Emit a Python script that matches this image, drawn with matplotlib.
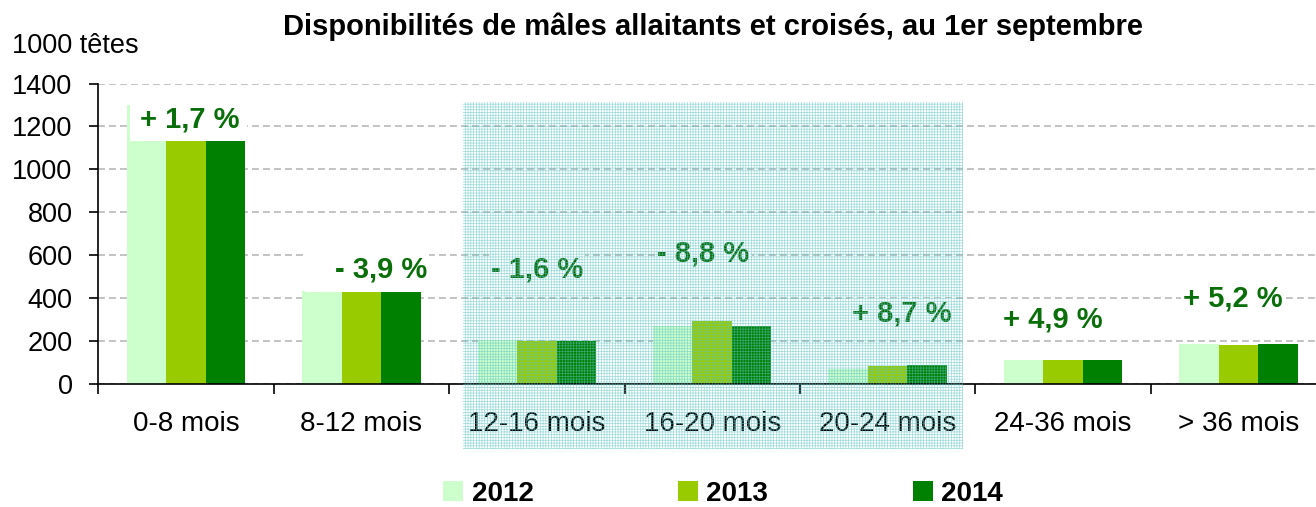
import numpy as np
import matplotlib
matplotlib.use("Agg")
import matplotlib.pyplot as plt
import matplotlib.transforms as mtransforms
from matplotlib.patches import Rectangle, Patch

plt.rcParams['font.family'] = ['Liberation Sans', 'DejaVu Sans']
plt.rcParams['hatch.linewidth'] = 0.5

categories = ['0-8 mois', '8-12 mois', '12-16 mois', '16-20 mois',
              '20-24 mois', '24-36 mois', '> 36 mois']
v2012 = [1300, 434, 205, 270, 68, 110, 185]
v2013 = [1130, 426, 200, 293, 83, 110, 180]
v2014 = [1130, 426, 197, 270, 88, 110, 185]
changes = ['+ 1,7 %', '- 3,9 %', '- 1,6 %', '- 8,8 %', '+ 8,7 %', '+ 4,9 %', '+ 5,2 %']
years = ['2012', '2013', '2014']
yticks = [0, 200, 400, 600, 800, 1000, 1200, 1400]

# label placement (layout only)
lab_dx = [0.02, 0.11, 0.0, -0.05, 0.08, -0.06, -0.03]
lab_base = [1197, 497, 497, 567, 287, 259, 358]
lab_cover = [True, True, False, False, False, False, False]  # white box over bar tops

colors = ['#ccffcc', '#99cc00', '#008000']
txt_green = '#0a6e0a'

fig = plt.figure(figsize=(13.16, 5.07), dpi=100)
W, H = 1316, 507
ax = fig.add_axes([98.3 / W, 123.5 / H, 7 * 175.4 / W, 300 / H])

x = np.arange(len(categories))
bw = 0.225
for k, (vals, c) in enumerate(zip([v2012, v2013, v2014], colors)):
    ax.bar(x + (k - 1) * bw, vals, bw, color=c, zorder=2, linewidth=0)

for i, t in enumerate(changes):
    if lab_cover[i]:
        ax.add_patch(Rectangle((x[i] - 0.32, v2014[i]), 0.67, lab_base[i] + 110 - v2014[i],
                               facecolor='white', edgecolor='none', zorder=3))
    ax.text(x[i] + lab_dx[i], lab_base[i], t, ha='center', va='baseline',
            fontsize=21, fontweight='bold', color=txt_green, zorder=4,
            bbox=dict(facecolor='white', edgecolor='none', pad=1.5))

ax.set_xlim(-0.5, len(categories) - 0.5)
ax.set_ylim(0, 1400)
ax.set_yticks(yticks)
ax.set_xticks(np.arange(len(categories) + 1) - 0.5)
ax.set_xticklabels([])
ax.set_xticks(x, minor=True)
ax.set_xticklabels(categories, minor=True)
ax.tick_params(axis='x', which='major', direction='out', length=7, width=1.2)
ax.tick_params(axis='x', which='minor', length=0, pad=20, labelsize=20)
ax.tick_params(axis='y', direction='out', length=6.5, width=1.2, pad=12, labelsize=19.5)

ax.yaxis.grid(True, color='#b3b3b3', linestyle=(0, (4.5, 2.7)), linewidth=1.1, zorder=1)
ax.set_axisbelow(True)
for s in ['top', 'right']:
    ax.spines[s].set_visible(False)
for s in ['left', 'bottom']:
    ax.spines[s].set_linewidth(1.2)

fig.text(713 / W, 1 - 35 / H, 'Disponibilités de mâles allaitants et croisés, au 1er septembre',
         ha='center', va='baseline', fontsize=21, fontweight='bold')
fig.text(12 / W, 1 - 53 / H, '1000 têtes', ha='left', va='baseline', fontsize=19.5)

handles = [Patch(facecolor=c, edgecolor='none') for c in colors]
fig.legend(handles, years, loc='center', bbox_to_anchor=(723 / W, 1 - 494 / H), ncol=3,
           frameon=False, prop=dict(weight='bold', size=20), handlelength=0.72,
           handleheight=0.72, handletextpad=0.3, columnspacing=5.2)

# hatched highlight over the 12-24 mois groups
trans = mtransforms.blended_transform_factory(ax.transData, fig.transFigure)
hl = Rectangle((2 - 0.42, 0.1144), 2.85, 0.685, transform=trans, facecolor='none',
               edgecolor='#5cc2c2', hatch='++++++', linewidth=0, alpha=0.6, zorder=10)
fig.add_artist(hl)

fig.savefig('out.png', dpi=100)
